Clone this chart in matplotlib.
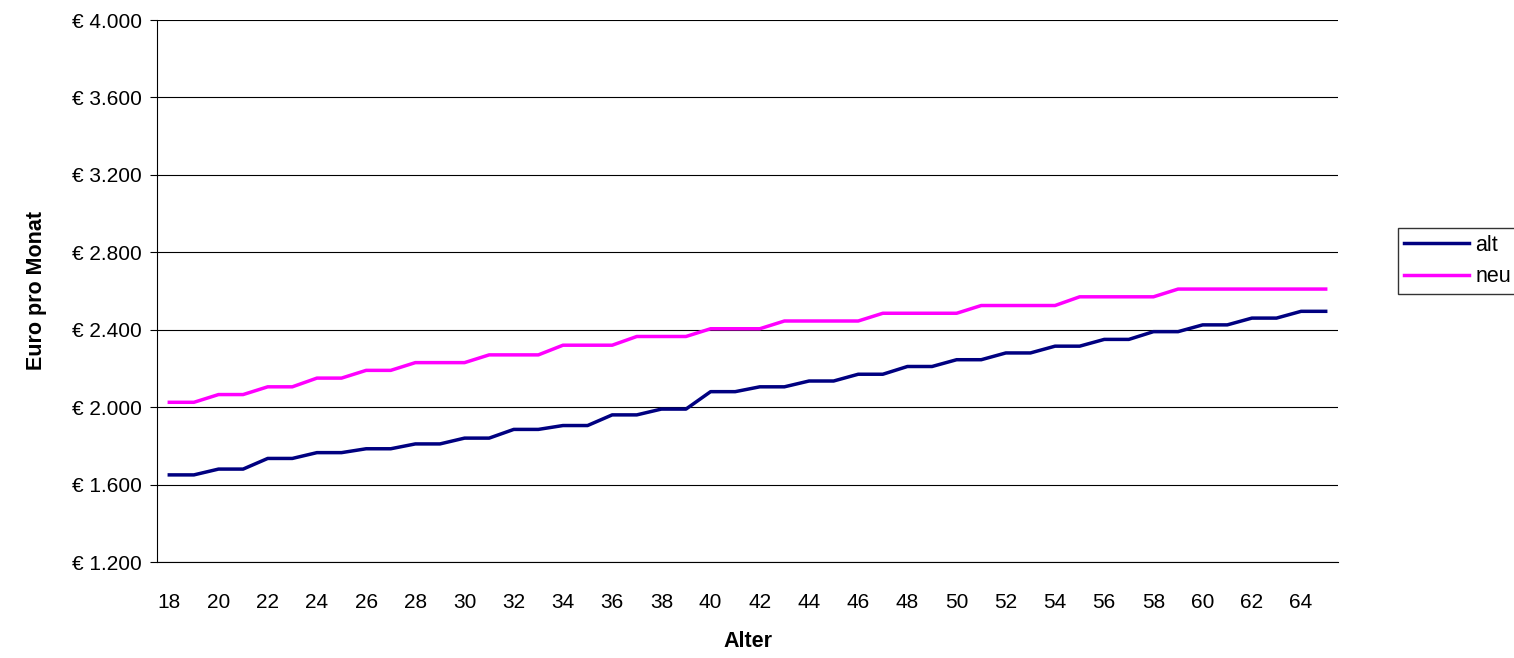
import matplotlib
matplotlib.use("Agg")
import matplotlib.pyplot as plt
from matplotlib.ticker import FuncFormatter

ages = list(range(18, 66))
alt = [1650, 1650, 1680, 1680, 1735, 1735, 1765, 1765, 1785, 1785, 1810, 1810,
       1840, 1840, 1885, 1885, 1905, 1905, 1960, 1960, 1990, 1990, 2080, 2080,
       2105, 2105, 2135, 2135, 2170, 2170, 2210, 2210, 2245, 2245, 2280, 2280,
       2315, 2315, 2350, 2350, 2390, 2390, 2425, 2425, 2460, 2460, 2495, 2495]
neu = [2025, 2025, 2065, 2065, 2105, 2105, 2150, 2150, 2190, 2190, 2230, 2230,
       2230, 2270, 2270, 2270, 2320, 2320, 2320, 2365, 2365, 2365, 2405, 2405,
       2405, 2445, 2445, 2445, 2445, 2485, 2485, 2485, 2485, 2525, 2525, 2525,
       2525, 2570, 2570, 2570, 2570, 2610, 2610, 2610, 2610, 2610, 2610, 2610]

plt.rcParams["font.family"] = ["Liberation Sans", "DejaVu Sans"]

fig = plt.figure(figsize=(15.14, 6.58), dpi=100)
ax = fig.add_axes([157 / 1514, 1 - 562 / 658, (1338 - 157) / 1514, (562 - 20) / 658])

x = list(range(len(ages)))
ax.plot(x, alt, color="#000080", linewidth=2.5, label="alt")
ax.plot(x, neu, color="#FF00FF", linewidth=2.5, label="neu")

ax.set_xlim(-0.5, len(ages) - 0.5)
ax.set_ylim(1200, 4000)
ax.set_yticks(range(1200, 4001, 400))
ax.yaxis.set_major_formatter(FuncFormatter(lambda v, p: "€ " + f"{int(v):,}".replace(",", ".")))
ax.set_xticks(x[::2])
ax.set_xticklabels([str(a) for a in ages[::2]])
ax.tick_params(labelsize=15)
ax.tick_params(axis="x", length=0, pad=22)
ax.tick_params(axis="y", length=5, pad=6)
ax.grid(True, axis="y", color="black", linewidth=0.8)
ax.set_axisbelow(True)
for s in ["top", "right"]:
    ax.spines[s].set_visible(False)

ax.set_xlabel("Alter", fontsize=15.5, fontweight="bold", labelpad=14)
ax.set_ylabel("Euro pro Monat", fontsize=15.5, fontweight="bold", labelpad=18)

fig.legend(loc="center left", bbox_to_anchor=(1398 / 1514, 1 - 261 / 658), fontsize=15.5,
           frameon=True, fancybox=False, edgecolor="black", handlelength=3,
           borderpad=0.3, handletextpad=0.3, labelspacing=0.5, borderaxespad=0)

fig.savefig("out.png", dpi=100)
